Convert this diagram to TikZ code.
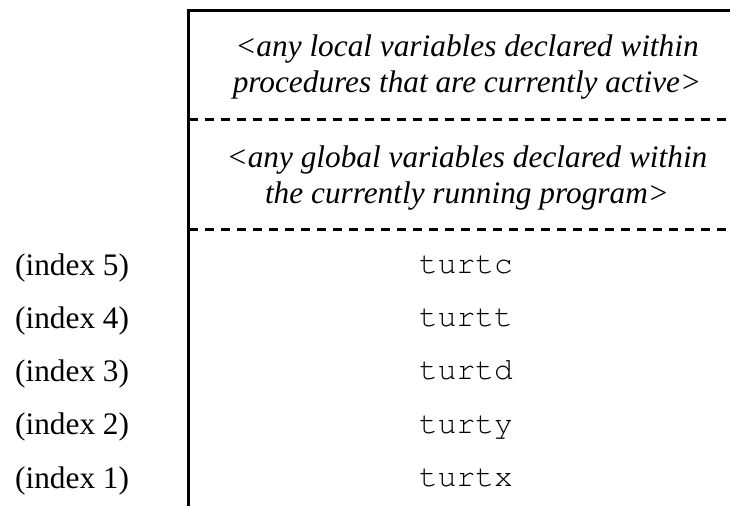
\documentclass[tikz,border=0pt]{standalone}
\usepackage{fontspec}
\setmainfont{Liberation Serif}
\setmonofont{Liberation Mono}
\newcommand{\courierfont}{\fontencoding{T1}\fontfamily{pcr}\selectfont}
\begin{document}
\begin{tikzpicture}[x=1pt,y=-1pt,
  lbl/.style={font=\fontsize{31.3}{36}\selectfont, anchor=base west, inner sep=0pt},
  ent/.style={font=\courierfont\fontsize{31.3}{36}\selectfont, anchor=base, inner sep=0pt},
  note/.style={font=\fontsize{31.3}{36}\selectfont\itshape, anchor=base, inner sep=0pt},
  sepline/.style={line width=3pt, dash pattern=on 9pt off 7pt},
  frame/.style={line width=2.5pt}]
\useasboundingbox (0,0) rectangle (730,506);
% frame
\coordinate (tr) at (730,10.7);
\coordinate (tl) at (188.5,10.7);
\coordinate (bl) at (188.5,506);
\draw[frame] (tr) -- (tl) -- (bl);
% dashed separators
\coordinate (s1l) at (189,119);
\coordinate (s1r) at (730,119);
\coordinate (s2l) at (189,229);
\coordinate (s2r) at (730,229);
\draw[sepline] (s1l) -- (s1r);
\draw[sepline] (s2l) -- (s2r);
% notes
\node[note] (loc1) at (467,56) {<any local variables declared within};
\node[note] (loc2) at (467,92) {procedures that are currently active>};
\node[note] (glo1) at (467,167) {<any global variables declared within};
\node[note] (glo2) at (467,203) {the currently running program>};
% entries
\node[ent] (e5) at (466,273) {turtc};
\node[ent] (e4) at (466,326.4) {turtt};
\node[ent] (e3) at (466,379.8) {turtd};
\node[ent] (e2) at (466,433.2) {turty};
\node[ent] (e1) at (466,486.6) {turtx};
% index labels
\node[lbl] (i5) at (15,275) {(index 5)};
\node[lbl] (i4) at (15,328.3) {(index 4)};
\node[lbl] (i3) at (15,381.6) {(index 3)};
\node[lbl] (i2) at (15,434.9) {(index 2)};
\node[lbl] (i1) at (15,488.2) {(index 1)};
\end{tikzpicture}
\end{document}
